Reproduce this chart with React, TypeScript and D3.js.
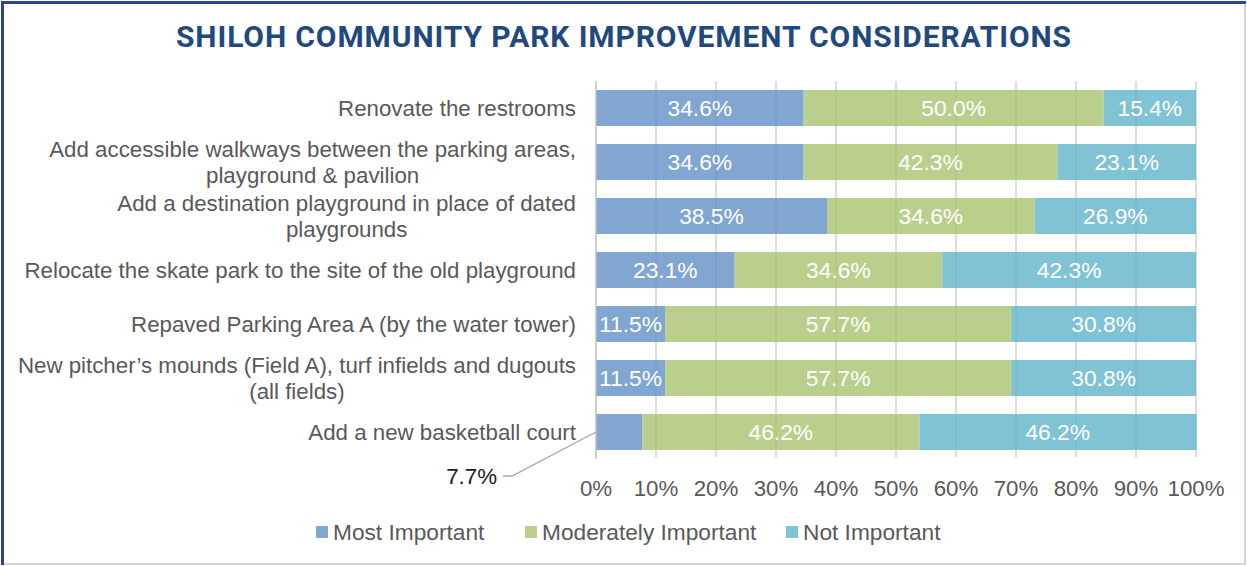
import React, { useEffect, useRef } from "react";
import * as d3 from "d3";

const categories: string[][] = [
  ["Renovate the restrooms"],
  ["Add accessible walkways between the parking areas,", "playground & pavilion"],
  ["Add a destination playground in place of dated", "playgrounds"],
  ["Relocate the skate park to the site of the old playground"],
  ["Repaved Parking Area A (by the water tower)"],
  ["New pitcher\u2019s mounds (Field A), turf infields and dugouts", "(all fields)"],
  ["Add a new basketball court"],
];
const mostImportant = [34.6, 34.6, 38.5, 23.1, 11.5, 11.5, 7.7];
const moderatelyImportant = [50.0, 42.3, 34.6, 34.6, 57.7, 57.7, 46.2];
const notImportant = [15.4, 23.1, 26.9, 42.3, 30.8, 30.8, 46.2];
const seriesNames = ["Most Important", "Moderately Important", "Not Important"];
const seriesColors = ["#81A6D1", "#B9CF8B", "#80C3D5"];
const tickValues = [0, 10, 20, 30, 40, 50, 60, 70, 80, 90, 100];
const title = "SHILOH COMMUNITY PARK IMPROVEMENT CONSIDERATIONS";

const W = 1247;
const H = 566;
const FONT = "'Liberation Sans', Arial, sans-serif";

export default function App() {
  const ref = useRef<SVGSVGElement>(null);

  useEffect(() => {
    const svg = d3.select(ref.current);
    svg.selectAll("*").remove();

    // frame
    svg.append("rect").attr("x", 0).attr("y", 0).attr("width", W).attr("height", H).attr("fill", "#fff");
    svg.append("rect").attr("x", 2).attr("y", 2).attr("width", W - 4).attr("height", H - 4)
      .attr("fill", "none").attr("stroke", "#D3D6E2").attr("stroke-width", 2);
    svg.append("line").attr("x1", 1).attr("x2", W - 1).attr("y1", 2.5).attr("y2", 2.5)
      .attr("stroke", "#2B4592").attr("stroke-width", 3);
    svg.append("line").attr("x1", 2.5).attr("x2", 2.5).attr("y1", 1).attr("y2", H - 1)
      .attr("stroke", "#2B4592").attr("stroke-width", 3);

    // title
    svg.append("text").attr("x", 624).attr("y", 47).attr("text-anchor", "middle")
      .attr("font-family", "Roboto, sans-serif").attr("font-weight", 700).attr("font-size", 30)
      .attr("letter-spacing", 0.9)
      .attr("fill", "#22497E").text(title);

    const x = d3.scaleLinear().domain([0, 100]).range([596, 1196]);
    const y = d3.scaleBand<number>().domain(d3.range(categories.length))
      .range([81, 459]).paddingInner(1 / 3).paddingOuter(1 / 6);

    const g = svg.append("g");
    // gridlines
    g.selectAll("line.grid").data(tickValues.slice(1)).join("line").attr("class", "grid")
      .attr("x1", (d) => x(d)).attr("x2", (d) => x(d)).attr("y1", 81).attr("y2", 457)
      .attr("stroke", "#D9D9D9").attr("stroke-width", 1.3);

    const series = [mostImportant, moderatelyImportant, notImportant];
    const rows = categories.map((_, i) => {
      let acc = 0;
      return series.map((s, k) => {
        const start = acc;
        acc += s[i];
        return { i, k, start, end: acc, v: s[i] };
      });
    });
    const segs = rows.flat();

    g.selectAll("rect.bar").data(segs).join("rect").attr("class", "bar")
      .attr("x", (d) => x(d.start)).attr("width", (d) => x(d.end) - x(d.start))
      .attr("y", (d) => y(d.i)!).attr("height", y.bandwidth())
      .attr("fill", (d) => seriesColors[d.k]);

    // faint gridlines through bars
    g.selectAll("line.grid2").data(tickValues.slice(1)).join("line").attr("class", "grid2")
      .attr("x1", (d) => x(d)).attr("x2", (d) => x(d)).attr("y1", 81).attr("y2", 457)
      .attr("stroke", "#000").attr("stroke-opacity", 0.05).attr("stroke-width", 1.3);

    // axis line
    g.append("line").attr("x1", x(0)).attr("x2", x(0)).attr("y1", 81).attr("y2", 459)
      .attr("stroke", "#BFBFBF").attr("stroke-width", 1.5);

    // data labels
    g.selectAll("text.dl").data(segs.filter((d) => !(d.k === 0 && d.v < 10))).join("text")
      .attr("class", "dl")
      .attr("x", (d) => (x(d.start) + x(Math.min(d.end, 100))) / 2)
      .attr("y", (d) => y(d.i)! + y.bandwidth() / 2)
      .attr("dy", "0.35em").attr("text-anchor", "middle")
      .attr("font-family", FONT).attr("font-size", 22.8).attr("fill", "#fff")
      .text((d) => d.v.toFixed(1) + "%");

    // external label for small segment
    const small = segs.filter((d) => d.k === 0 && d.v < 10);
    small.forEach((d) => {
      const cy = y(d.i)! + y.bandwidth() / 2;
      g.append("path")
        .attr("d", d3.line()([[503, cy + 44], [512, cy + 44], [x(0), cy]]))
        .attr("fill", "none").attr("stroke", "#A6A6A6").attr("stroke-width", 1.3);
      g.append("text").attr("x", 497).attr("y", cy + 44).attr("dy", "0.35em")
        .attr("text-anchor", "end").attr("font-family", FONT).attr("font-size", 22.3)
        .attr("fill", "#1A1A1A").text(d.v.toFixed(1) + "%");
    });

    // category labels
    categories.forEach((lines, i) => {
      const cy = y(i)! + y.bandwidth() / 2;
      const lh = 26;
      const grp = g.append("g");
      const texts = lines.map((ln, j) =>
        grp.append("text").attr("y", cy + (j - (lines.length - 1) / 2) * lh).attr("dy", "0.35em")
          .attr("text-anchor", "middle").attr("font-family", FONT).attr("font-size", 22.3)
          .attr("fill", "#595959").text(ln)
      );
      const maxW = d3.max(texts, (t) => (t.node() as SVGTextElement).getComputedTextLength()) || 0;
      texts.forEach((t) => t.attr("x", 576 - maxW / 2));
    });

    // x tick labels
    g.selectAll("text.tick").data(tickValues).join("text").attr("class", "tick")
      .attr("x", (d) => x(d)).attr("y", 488).attr("dy", "0.35em").attr("text-anchor", "middle")
      .attr("font-family", FONT).attr("font-size", 22.3).attr("fill", "#595959")
      .text((d) => d + "%");

    // legend
    const legendX = [316, 525, 786];
    seriesNames.forEach((name, k) => {
      g.append("rect").attr("x", legendX[k]).attr("y", 526).attr("width", 12).attr("height", 12)
        .attr("fill", seriesColors[k]);
      g.append("text").attr("x", legendX[k] + 17).attr("y", 532).attr("dy", "0.35em")
        .attr("font-family", FONT).attr("font-size", 22.7).attr("fill", "#595959").text(name);
    });
  }, []);

  return (
    <svg ref={ref} width={W} height={H} style={{ position: "absolute", left: 0, top: 0 }} />
  );
}
